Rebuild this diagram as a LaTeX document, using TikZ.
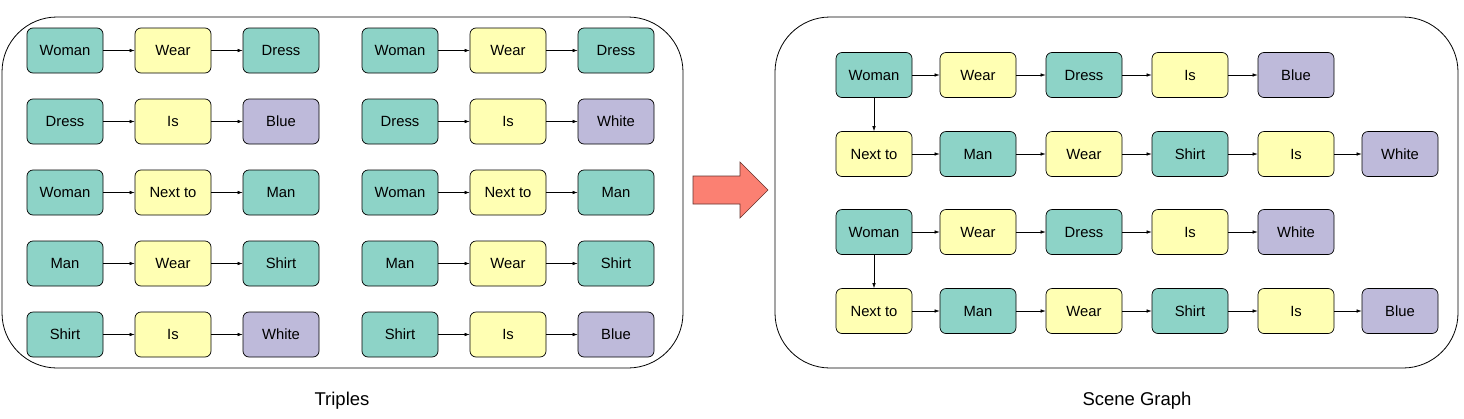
\documentclass[tikz,border=0pt]{standalone}
\usepackage{fontspec}
\setmainfont{Liberation Sans}
\usetikzlibrary{arrows.meta}
\definecolor{ent}{HTML}{8DD3C7}
\definecolor{rel}{HTML}{FFFFB3}
\definecolor{att}{HTML}{BEBADA}
\definecolor{bigarrow}{HTML}{FB8072}
\tikzset{
  box/.style={draw=black, line width=0.7pt, rounded corners=6pt, minimum width=76pt, minimum height=45pt, inner sep=0pt, font=\fontsize{14.8}{16}\selectfont},
  E/.style={box, fill=ent},
  R/.style={box, fill=rel},
  A/.style={box, fill=att},
  conn/.style={-{Latex[length=5pt,width=3.5pt]}, line width=0.6pt},
  panel/.style={draw=black, line width=0.8pt, rounded corners=55pt},
  caption/.style={font=\fontsize{18.5}{20}\selectfont}
}
\begin{document}
\begin{tikzpicture}[x=1pt,y=-1pt]
\useasboundingbox (0,0) rectangle (1464,418);
% panels
\draw[panel] (2,17) rectangle (683,368);
\draw[panel] (775,17) rectangle (1458,368);
% left triples, group 1
\node[E] (a1) at (65,50.5) {Woman};   \node[R] (a2) at (173,50.5) {Wear};    \node[E] (a3) at (281,50.5) {Dress};
\node[E] (b1) at (65,121.5) {Dress};  \node[R] (b2) at (173,121.5) {Is};     \node[A] (b3) at (281,121.5) {Blue};
\node[E] (c1) at (65,192.5) {Woman};  \node[R] (c2) at (173,192.5) {Next to};\node[E] (c3) at (281,192.5) {Man};
\node[E] (d1) at (65,263.5) {Man};    \node[R] (d2) at (173,263.5) {Wear};   \node[E] (d3) at (281,263.5) {Shirt};
\node[E] (e1) at (65,334.5) {Shirt};  \node[R] (e2) at (173,334.5) {Is};     \node[A] (e3) at (281,334.5) {White};
% left triples, group 2
\node[E] (f1) at (400,50.5) {Woman};  \node[R] (f2) at (508,50.5) {Wear};    \node[E] (f3) at (616,50.5) {Dress};
\node[E] (g1) at (400,121.5) {Dress}; \node[R] (g2) at (508,121.5) {Is};     \node[A] (g3) at (616,121.5) {White};
\node[E] (h1) at (400,192.5) {Woman}; \node[R] (h2) at (508,192.5) {Next to};\node[E] (h3) at (616,192.5) {Man};
\node[E] (i1) at (400,263.5) {Man};   \node[R] (i2) at (508,263.5) {Wear};   \node[E] (i3) at (616,263.5) {Shirt};
\node[E] (j1) at (400,334.5) {Shirt}; \node[R] (j2) at (508,334.5) {Is};     \node[A] (j3) at (616,334.5) {Blue};
\foreach \r in {a,b,c,d,e,f,g,h,i,j}{
  \draw[conn] (\r1) -- (\r2);
  \draw[conn] (\r2) -- (\r3);
}
% big arrow
\draw[draw=black!60!bigarrow, line width=0.6pt, fill=bigarrow, line join=miter]
  (693,176) -- (740,176) -- (740,162) -- (768,190) -- (740,218) -- (740,204) -- (693,204) -- cycle;
% scene graph 1
\node[E] (p1) at (874,75) {Woman}; \node[R] (p2) at (978,75) {Wear}; \node[E] (p3) at (1084,75) {Dress}; \node[R] (p4) at (1190,75) {Is}; \node[A] (p5) at (1296,75) {Blue};
\node[R] (q1) at (874,154) {Next to}; \node[E] (q2) at (978,154) {Man}; \node[R] (q3) at (1084,154) {Wear}; \node[E] (q4) at (1190,154) {Shirt}; \node[R] (q5) at (1296,154) {Is}; \node[A] (q6) at (1400,154) {White};
\draw[conn] (p1)--(p2); \draw[conn] (p2)--(p3); \draw[conn] (p3)--(p4); \draw[conn] (p4)--(p5);
\draw[conn] (p1)--(q1);
\draw[conn] (q1)--(q2); \draw[conn] (q2)--(q3); \draw[conn] (q3)--(q4); \draw[conn] (q4)--(q5); \draw[conn] (q5)--(q6);
% scene graph 2
\node[E] (s1) at (874,232) {Woman}; \node[R] (s2) at (978,232) {Wear}; \node[E] (s3) at (1084,232) {Dress}; \node[R] (s4) at (1190,232) {Is}; \node[A] (s5) at (1296,232) {White};
\node[R] (t1) at (874,311) {Next to}; \node[E] (t2) at (978,311) {Man}; \node[R] (t3) at (1084,311) {Wear}; \node[E] (t4) at (1190,311) {Shirt}; \node[R] (t5) at (1296,311) {Is}; \node[A] (t6) at (1400,311) {Blue};
\draw[conn] (s1)--(s2); \draw[conn] (s2)--(s3); \draw[conn] (s3)--(s4); \draw[conn] (s4)--(s5);
\draw[conn] (s1)--(t1);
\draw[conn] (t1)--(t2); \draw[conn] (t2)--(t3); \draw[conn] (t3)--(t4); \draw[conn] (t4)--(t5); \draw[conn] (t5)--(t6);
% captions
\node[caption] (cap1) at (342,401) {Triples};
\node[caption] (cap2) at (1137,401) {Scene Graph};
\end{tikzpicture}
\end{document}
